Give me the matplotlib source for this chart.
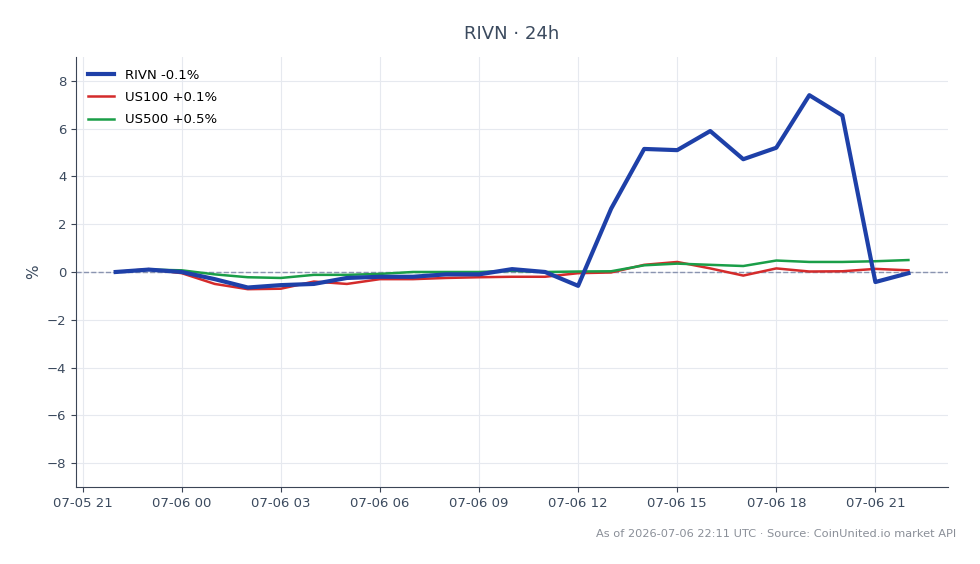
import pandas as pd
import matplotlib
matplotlib.use("Agg")
import matplotlib.pyplot as plt
import matplotlib.dates as mdates

# hourly % change, 07-05 22:00 -> 07-06 22:00
start = "2026-07-05 22:00"
rivn = [0.0, 0.1, 0.0, -0.3, -0.65, -0.55, -0.5, -0.25, -0.2, -0.2, -0.1, -0.1, 0.12,
        0.0, -0.58, 2.65, 5.15, 5.1, 5.9, 4.72, 5.2, 7.4, 6.55, -0.42, -0.05]
us100 = [0.0, 0.12, -0.05, -0.5, -0.72, -0.7, -0.4, -0.5, -0.3, -0.3, -0.25, -0.22, -0.2,
         -0.2, -0.05, -0.02, 0.3, 0.42, 0.15, -0.15, 0.15, 0.02, 0.03, 0.13, 0.07]
us500 = [0.0, 0.1, 0.07, -0.1, -0.22, -0.25, -0.12, -0.12, -0.08, 0.0, 0.0, 0.0, 0.05,
         0.0, 0.02, 0.03, 0.28, 0.35, 0.3, 0.25, 0.48, 0.42, 0.42, 0.45, 0.5]
labels = ["RIVN -0.1%", "US100 +0.1%", "US500 +0.5%"]

times = pd.date_range(start, periods=len(rivn), freq="h")

txt = "#3b4a5e"
fig = plt.figure(figsize=(9.8, 5.64), dpi=100)
ax = fig.add_axes([0.0776, 0.1365, 0.8898, 0.7625])

ax.axhline(0, color="#8a94b0", lw=1, ls="--", zorder=1)
ax.plot(times, rivn, color="#1e40a8", lw=3, label=labels[0], zorder=4)
ax.plot(times, us100, color="#d42b2b", lw=1.8, label=labels[1], zorder=3)
ax.plot(times, us500, color="#1a9e48", lw=1.8, label=labels[2], zorder=3)

ax.set_ylim(-9, 9)
ax.set_yticks([-8, -6, -4, -2, 0, 2, 4, 6, 8])
ax.xaxis.set_major_locator(mdates.HourLocator(byhour=range(0, 24, 3)))
ax.xaxis.set_major_formatter(mdates.DateFormatter("%m-%d %H"))

ax.grid(True, color="#e6e9ef", lw=0.8)
ax.set_axisbelow(True)
for s in ["top", "right"]:
    ax.spines[s].set_visible(False)
for s in ["left", "bottom"]:
    ax.spines[s].set_color("#3b4556")
ax.tick_params(colors="#3b4556", labelcolor=txt, labelsize=9.5)
ax.set_ylabel("%", color=txt, fontsize=11)

ax.set_title("RIVN · 24h", color=txt, fontsize=13, pad=13)
ax.legend(loc="upper left", frameon=False, fontsize=9.5, labelspacing=0.7)

fig.text(0.976, 0.044, "As of 2026-07-06 22:11 UTC · Source: CoinUnited.io market API",
         ha="right", va="bottom", fontsize=8.2, color="#8a8f98")

fig.savefig("out.png", dpi=100)
